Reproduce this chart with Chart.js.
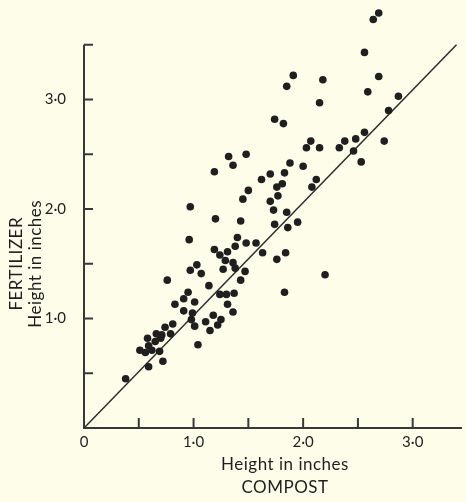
<!DOCTYPE html>
<html>
<head>
<meta charset="utf-8">
<script src="https://cdn.jsdelivr.net/npm/chart.js@4"></script>
<style>
  html, body { margin: 0; padding: 0; background: #fdfdea; }
  #wrap { width: 466px; height: 502px; }
</style>
</head>
<body>
<div id="wrap"><canvas id="myChart"></canvas></div>
<script>
// plant heights, inches
const compostHeight = [
    2.69, 2.64, 2.56, 1.91, 2.18, 1.85, 2.69, 2.59, 2.87, 2.15,
    2.78, 1.74, 1.82, 2.56, 2.48, 2.38, 2.33, 2.07, 2.03, 2.15,
    2.74, 2.46, 2.53, 1.88, 2.00, 1.48, 1.32, 1.36, 1.19, 1.62,
    1.70, 1.83, 2.12, 1.76, 1.81, 2.08, 1.50, 1.77, 1.45, 1.70,
    0.97, 1.73, 1.85, 1.20, 1.43, 1.74, 1.86, 1.95, 0.96, 1.40,
    1.48, 1.57, 1.38, 1.19, 1.24, 1.31, 1.63, 1.84, 1.76, 1.29,
    1.36, 1.03, 0.97, 1.07, 1.27, 1.38, 1.47, 1.43, 2.20, 1.83,
    0.76, 1.14, 0.95, 1.24, 1.30, 1.37, 0.91, 1.01, 0.83, 1.31,
    0.91, 1.36, 0.99, 1.18, 1.25, 0.98, 1.11, 0.81, 1.22, 1.01,
    1.15, 1.04, 0.72, 0.59, 0.38, 0.74, 0.79, 0.71, 0.66, 0.58,
    0.65, 0.70, 0.51, 0.59, 0.56, 0.62, 0.69
];
const fertilizerHeight = [
    3.79, 3.73, 3.43, 3.22, 3.18, 3.12, 3.21, 3.07, 3.03, 2.97,
    2.90, 2.82, 2.78, 2.70, 2.64, 2.62, 2.56, 2.62, 2.56, 2.56,
    2.62, 2.53, 2.43, 2.42, 2.39, 2.50, 2.48, 2.40, 2.34, 2.27,
    2.32, 2.33, 2.27, 2.20, 2.23, 2.20, 2.17, 2.12, 2.09, 2.07,
    2.02, 1.99, 1.97, 1.91, 1.89, 1.86, 1.83, 1.88, 1.72, 1.74,
    1.69, 1.69, 1.66, 1.63, 1.58, 1.61, 1.60, 1.60, 1.54, 1.53,
    1.51, 1.49, 1.44, 1.41, 1.45, 1.46, 1.43, 1.35, 1.40, 1.24,
    1.35, 1.30, 1.24, 1.22, 1.22, 1.23, 1.18, 1.15, 1.13, 1.13,
    1.07, 1.06, 1.05, 1.03, 0.99, 0.99, 0.97, 0.95, 0.94, 0.93,
    0.89, 0.76, 0.61, 0.56, 0.45, 0.92, 0.86, 0.85, 0.86, 0.82,
    0.79, 0.82, 0.71, 0.75, 0.69, 0.71, 0.70
];

// line of equal height
const equalLineX = [0, 3.4];
const equalLineY = [0, 3.5];

const xTickValues = [0, 0.5, 1, 1.5, 2, 2.5, 3];
const yTickValues = [0, 0.5, 1, 1.5, 2, 2.5, 3, 3.5];
const xTickLabels = {0: '0', 1: '1·0', 2: '2·0', 3: '3·0'};
const yTickLabels = {1: '1·0', 2: '2·0', 3: '3·0'};
const xTitle = ['Height in inches', 'COMPOST'];
const yTitle = ['FERTILIZER', 'Height in inches'];

const ink = '#1f1f1f';
const font = 'Lato, "Open Sans", sans-serif';

// axes drawn by hand: ticks point inwards, y axis stops at 3.5
const axisMarks = {
    id: 'axisMarks',
    afterDraw(chart) {
        const {ctx, chartArea, scales: {x, y}} = chart;
        const x0 = x.getPixelForValue(0);
        const y0 = y.getPixelForValue(0);
        ctx.save();
        ctx.strokeStyle = '#383838';
        ctx.lineWidth = 2;
        ctx.beginPath();
        ctx.moveTo(x0, y.getPixelForValue(yTickValues[yTickValues.length - 1]));
        ctx.lineTo(x0, y0);
        ctx.lineTo(chartArea.right, y0);
        x.ticks.forEach(t => {
            if (t.value <= 0) return;
            const px = x.getPixelForValue(t.value);
            ctx.moveTo(px, y0);
            ctx.lineTo(px, y0 - 10);
        });
        y.ticks.forEach(t => {
            if (t.value <= 0) return;
            const py = y.getPixelForValue(t.value);
            ctx.moveTo(x0, py);
            ctx.lineTo(x0 + 9, py);
        });
        ctx.stroke();

        ctx.fillStyle = ink;
        ctx.font = '17px ' + font;
        ctx.letterSpacing = '0.5px';
        ctx.textAlign = 'center';
        ctx.textBaseline = 'middle';
        const cx = (chartArea.left + chartArea.right) / 2 + 12;
        ctx.fillText(xTitle[0], cx, y0 + 37);
        ctx.fillText(xTitle[1], cx, y0 + 60);

        ctx.translate(0, y.getPixelForValue(1.5));
        ctx.rotate(-Math.PI / 2);
        ctx.fillText(yTitle[0], 0, 17);
        ctx.fillText(yTitle[1], 0, 36);
        ctx.restore();
    }
};

const ctx = document.getElementById('myChart');

new Chart(ctx, {
    data: {
        datasets: [{
            type: 'scatter',
            data: compostHeight.map((c, i) => ({x: c, y: fertilizerHeight[i]})),
            backgroundColor: ink,
            borderWidth: 0,
            pointRadius: 3.8,
            order: 0
        }, {
            type: 'line',
            data: equalLineX.map((c, i) => ({x: c, y: equalLineY[i]})),
            borderColor: '#2c2c2c',
            borderWidth: 1.5,
            pointRadius: 0,
            order: 1
        }]
    },
    options: {
        responsive: true,
        maintainAspectRatio: false,
        animation: false,
        layout: {padding: {top: 5, left: 0, right: 0, bottom: 0}},
        plugins: {
            legend: {display: false},
            tooltip: {enabled: false}
        },
        scales: {
            x: {
                type: 'linear',
                min: 0,
                max: 3.45,
                grid: {display: false, drawTicks: false},
                border: {display: false},
                afterBuildTicks: s => { s.ticks = xTickValues.map(v => ({value: v})); },
                afterFit: s => { s.height = 74; s.paddingLeft = 0; s.paddingRight = 0; },
                ticks: {
                    autoSkip: false,
                    maxRotation: 0,
                    padding: 5,
                    color: ink,
                    font: {family: font, size: 15},
                    callback: v => xTickLabels[v] || ''
                }
            },
            y: {
                type: 'linear',
                min: 0,
                max: 3.863,
                grid: {display: false, drawTicks: false},
                border: {display: false},
                afterBuildTicks: s => { s.ticks = yTickValues.map(v => ({value: v})); },
                afterFit: s => { s.width = 84; s.paddingTop = 0; s.paddingBottom = 0; },
                ticks: {
                    autoSkip: false,
                    padding: 18,
                    color: ink,
                    font: {family: font, size: 15},
                    callback: v => yTickLabels[v] || ''
                }
            }
        }
    },
    plugins: [axisMarks]
});
</script>
</body>
</html>
